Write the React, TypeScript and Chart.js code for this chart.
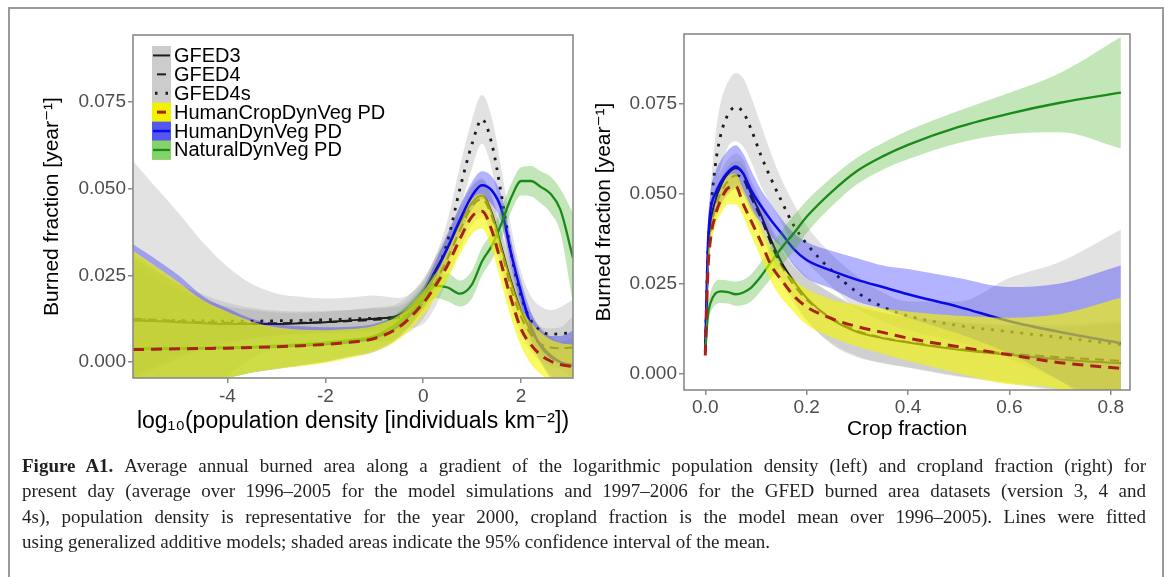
import React, { useEffect, useRef } from 'react';
import { Chart, registerables } from 'chart.js';

Chart.register(...registerables);

const FONT = "'Liberation Sans', 'DejaVu Sans', Arial, sans-serif";
const SERIF = "'Liberation Serif', 'DejaVu Serif', serif";

// ---------- shared ----------
const Y_MIN = -0.0046;
const Y_MAX = 0.0943;
const yTicks = [0, 0.025, 0.05, 0.075];
const seriesLabels = ['GFED3', 'GFED4', 'GFED4s', 'HumanCropDynVeg PD', 'HumanDynVeg PD', 'NaturalDynVeg PD'];

// ---------- left panel: log10 population density ----------
const popXMin = -5.93;
const popXMax = 3.06;
const popTicks = [-4, -2, 0, 2];
const popX = [-5.93, -5.5, -5, -4.5, -4, -3.5, -3, -2.5, -2, -1.5, -1, -0.5, 0, 0.25, 0.5, 0.75, 1, 1.2, 1.4, 1.6, 1.8, 2, 2.2, 2.4, 2.6, 2.8, 3.06];

const popGfed3 = [0.0120, 0.0118, 0.0115, 0.0112, 0.0110, 0.0110, 0.0110, 0.0112, 0.0115, 0.0120, 0.0125, 0.0135, 0.0200, 0.0265, 0.0330, 0.0400, 0.0460, 0.0480, 0.0430, 0.0330, 0.0230, 0.0148, 0.0090, 0.0050, 0.0020, 0.0000, -0.0012];
const popGfed3Lo = [-0.0040, -0.0010, 0.0020, 0.0045, 0.0060, 0.0070, 0.0077, 0.0082, 0.0085, 0.0090, 0.0093, 0.0100, 0.0160, 0.0225, 0.0285, 0.0350, 0.0410, 0.0430, 0.0380, 0.0280, 0.0180, 0.0098, 0.0040, 0.0000, -0.0035, -0.0060, -0.0092];
const popGfed3Hi = [0.0280, 0.0246, 0.0210, 0.0179, 0.0160, 0.0150, 0.0143, 0.0142, 0.0145, 0.0150, 0.0157, 0.0170, 0.0240, 0.0305, 0.0375, 0.0450, 0.0510, 0.0530, 0.0480, 0.0380, 0.0280, 0.0198, 0.0140, 0.0100, 0.0075, 0.0060, 0.0068];

const popGfed4 = [0.0125, 0.0122, 0.0118, 0.0115, 0.0113, 0.0112, 0.0112, 0.0113, 0.0115, 0.0118, 0.0122, 0.0128, 0.0170, 0.0230, 0.0300, 0.0380, 0.0450, 0.0470, 0.0420, 0.0320, 0.0210, 0.0130, 0.0080, 0.0052, 0.0042, 0.0040, 0.0042];
const popGfed4Lo = [-0.0050, -0.0020, 0.0010, 0.0035, 0.0055, 0.0068, 0.0076, 0.0080, 0.0083, 0.0086, 0.0089, 0.0095, 0.0110, 0.0160, 0.0240, 0.0325, 0.0395, 0.0415, 0.0365, 0.0265, 0.0155, 0.0080, 0.0030, 0.0002, -0.0013, -0.0020, -0.0048];
const popGfed4Hi = [0.0300, 0.0264, 0.0226, 0.0195, 0.0171, 0.0156, 0.0148, 0.0146, 0.0147, 0.0150, 0.0155, 0.0161, 0.0230, 0.0300, 0.0360, 0.0435, 0.0505, 0.0525, 0.0475, 0.0375, 0.0265, 0.0180, 0.0130, 0.0102, 0.0097, 0.0100, 0.0132];

const popGfed4s = [0.0122, 0.0121, 0.0120, 0.0119, 0.0118, 0.0118, 0.0119, 0.0120, 0.0122, 0.0124, 0.0126, 0.0128, 0.0180, 0.0250, 0.0350, 0.0500, 0.0630, 0.0700, 0.0630, 0.0480, 0.0310, 0.0190, 0.0120, 0.0090, 0.0080, 0.0082, 0.0085];
const popGfed4sLo = [-0.0330, -0.0264, -0.0188, -0.0107, -0.0039, 0.0011, 0.0040, 0.0052, 0.0061, 0.0062, 0.0060, 0.0071, 0.0125, 0.0195, 0.0290, 0.0435, 0.0560, 0.0630, 0.0555, 0.0405, 0.0235, 0.0120, 0.0050, 0.0020, 0.0010, 0.0006, -0.0010];
const popGfed4sHi = [0.0580, 0.0510, 0.0430, 0.0345, 0.0275, 0.0225, 0.0198, 0.0188, 0.0183, 0.0186, 0.0192, 0.0185, 0.0235, 0.0305, 0.0410, 0.0565, 0.0700, 0.0770, 0.0705, 0.0555, 0.0385, 0.0260, 0.0190, 0.0160, 0.0150, 0.0158, 0.0180];

const popHumCrop = [0.0036, 0.0037, 0.0038, 0.0039, 0.0040, 0.0042, 0.0044, 0.0047, 0.0051, 0.0057, 0.0068, 0.0100, 0.0170, 0.0220, 0.0280, 0.0355, 0.0420, 0.0435, 0.0380, 0.0280, 0.0180, 0.0095, 0.0050, 0.0020, 0.0003, -0.0007, -0.0013];
const popHumCropLo = [-0.0090, -0.0075, -0.0060, -0.0052, -0.0045, -0.0030, -0.0020, -0.0012, -0.0003, 0.0012, 0.0030, 0.0065, 0.0135, 0.0185, 0.0240, 0.0310, 0.0370, 0.0385, 0.0325, 0.0225, 0.0125, 0.0045, -0.0005, -0.0035, -0.0055, -0.0070, -0.0080];
const popHumCropHi = [0.0320, 0.0280, 0.0230, 0.0178, 0.0145, 0.0117, 0.0100, 0.0093, 0.0092, 0.0095, 0.0105, 0.0135, 0.0205, 0.0255, 0.0320, 0.0400, 0.0470, 0.0485, 0.0435, 0.0335, 0.0235, 0.0155, 0.0115, 0.0085, 0.0065, 0.0055, 0.0050];

const popHumDyn = [0.0037, 0.0038, 0.0039, 0.0040, 0.0041, 0.0043, 0.0045, 0.0048, 0.0052, 0.0058, 0.0070, 0.0105, 0.0185, 0.0255, 0.0330, 0.0410, 0.0480, 0.0510, 0.0495, 0.0440, 0.0310, 0.0200, 0.0105, 0.0045, 0.0015, 0.0000, -0.0010];
const popHumDynLo = [-0.0090, -0.0075, -0.0060, -0.0052, -0.0045, -0.0030, -0.0020, -0.0010, 0.0000, 0.0015, 0.0030, 0.0070, 0.0155, 0.0220, 0.0290, 0.0370, 0.0440, 0.0470, 0.0455, 0.0400, 0.0270, 0.0165, 0.0065, 0.0000, -0.0045, -0.0075, -0.0110];
const popHumDynHi = [0.0340, 0.0300, 0.0250, 0.0190, 0.0155, 0.0125, 0.0110, 0.0103, 0.0100, 0.0102, 0.0110, 0.0140, 0.0215, 0.0290, 0.0370, 0.0450, 0.0520, 0.0550, 0.0535, 0.0480, 0.0350, 0.0235, 0.0145, 0.0095, 0.0075, 0.0075, 0.0090];

const popNat = [0.0038, 0.0039, 0.0040, 0.0041, 0.0042, 0.0044, 0.0047, 0.0051, 0.0056, 0.0063, 0.0075, 0.0115, 0.0185, 0.0220, 0.0215, 0.0197, 0.0225, 0.0290, 0.0335, 0.0400, 0.0475, 0.0522, 0.0522, 0.0505, 0.0485, 0.0440, 0.0300];
const popNatLo = [-0.0090, -0.0075, -0.0060, -0.0050, -0.0045, -0.0030, -0.0018, -0.0008, 0.0003, 0.0018, 0.0035, 0.0075, 0.0150, 0.0185, 0.0175, 0.0160, 0.0185, 0.0250, 0.0295, 0.0355, 0.0435, 0.0480, 0.0478, 0.0458, 0.0430, 0.0375, 0.0170];
const popNatHi = [0.0310, 0.0270, 0.0220, 0.0170, 0.0140, 0.0110, 0.0095, 0.0090, 0.0090, 0.0095, 0.0105, 0.0145, 0.0215, 0.0255, 0.0255, 0.0235, 0.0265, 0.0330, 0.0375, 0.0445, 0.0515, 0.0562, 0.0565, 0.0550, 0.0535, 0.0500, 0.0430];

// ---------- right panel: crop fraction ----------
const cropXMin = -0.042;
const cropXMax = 0.838;
const cropTicks = [0, 0.2, 0.4, 0.6, 0.8];
const cropX = [0, 0.005, 0.01, 0.02, 0.03, 0.045, 0.06, 0.075, 0.09, 0.11, 0.13, 0.15, 0.175, 0.2, 0.25, 0.3, 0.35, 0.4, 0.5, 0.6, 0.7, 0.82];

const cropGfed3 = [0.0060, 0.0300, 0.0410, 0.0480, 0.0520, 0.0555, 0.0570, 0.0555, 0.0500, 0.0440, 0.0370, 0.0310, 0.0255, 0.0210, 0.0150, 0.0115, 0.0098, 0.0086, 0.0066, 0.0052, 0.0039, 0.0028];
const cropGfed3Lo = [0.0050, 0.0270, 0.0370, 0.0440, 0.0480, 0.0515, 0.0530, 0.0515, 0.0460, 0.0400, 0.0330, 0.0265, 0.0205, 0.0150, 0.0080, 0.0045, 0.0028, 0.0016, -0.0009, -0.0028, -0.0051, -0.0082];
const cropGfed3Hi = [0.0070, 0.0330, 0.0450, 0.0520, 0.0560, 0.0595, 0.0610, 0.0595, 0.0540, 0.0480, 0.0410, 0.0355, 0.0305, 0.0270, 0.0220, 0.0185, 0.0168, 0.0156, 0.0141, 0.0132, 0.0129, 0.0138];

const cropGfed4 = [0.0060, 0.0290, 0.0390, 0.0460, 0.0500, 0.0535, 0.0550, 0.0540, 0.0490, 0.0430, 0.0360, 0.0300, 0.0245, 0.0205, 0.0153, 0.0118, 0.0099, 0.0087, 0.0068, 0.0055, 0.0045, 0.0035];
const cropGfed4Lo = [0.0050, 0.0260, 0.0350, 0.0420, 0.0460, 0.0495, 0.0510, 0.0500, 0.0450, 0.0390, 0.0320, 0.0255, 0.0195, 0.0145, 0.0083, 0.0048, 0.0029, 0.0017, -0.0007, -0.0025, -0.0045, -0.0075];
const cropGfed4Hi = [0.0070, 0.0320, 0.0430, 0.0500, 0.0540, 0.0575, 0.0590, 0.0580, 0.0530, 0.0470, 0.0400, 0.0345, 0.0295, 0.0265, 0.0223, 0.0188, 0.0169, 0.0157, 0.0143, 0.0135, 0.0135, 0.0145];

const cropGfed4s = [0.0060, 0.0330, 0.0440, 0.0580, 0.0660, 0.0720, 0.0740, 0.0725, 0.0680, 0.0605, 0.0540, 0.0480, 0.0410, 0.0360, 0.0285, 0.0225, 0.0185, 0.0160, 0.0133, 0.0116, 0.0100, 0.0080];
const cropGfed4sLo = [0.0040, 0.0280, 0.0380, 0.0500, 0.0570, 0.0630, 0.0645, 0.0630, 0.0590, 0.0520, 0.0470, 0.0420, 0.0350, 0.0310, 0.0240, 0.0180, 0.0145, 0.0120, 0.0088, 0.0040, -0.0020, -0.0100];
const cropGfed4sHi = [0.0080, 0.0380, 0.0500, 0.0660, 0.0750, 0.0810, 0.0835, 0.0820, 0.0770, 0.0690, 0.0610, 0.0540, 0.0470, 0.0410, 0.0330, 0.0270, 0.0225, 0.0200, 0.0200, 0.0265, 0.0310, 0.0400];

const cropHumCrop = [0.0050, 0.0280, 0.0370, 0.0440, 0.0480, 0.0515, 0.0520, 0.0470, 0.0425, 0.0365, 0.0300, 0.0260, 0.0215, 0.0185, 0.0152, 0.0130, 0.0114, 0.0098, 0.0074, 0.0052, 0.0030, 0.0014];
const cropHumCropLo = [0.0040, 0.0250, 0.0340, 0.0410, 0.0440, 0.0470, 0.0470, 0.0435, 0.0385, 0.0320, 0.0255, 0.0210, 0.0170, 0.0135, 0.0100, 0.0075, 0.0055, 0.0035, 0.0000, -0.0030, -0.0045, -0.0180];
const cropHumCropHi = [0.0060, 0.0310, 0.0400, 0.0470, 0.0510, 0.0550, 0.0555, 0.0510, 0.0465, 0.0410, 0.0345, 0.0300, 0.0260, 0.0235, 0.0205, 0.0190, 0.0180, 0.0172, 0.0160, 0.0155, 0.0165, 0.0210];

const cropHumDyn = [0.0070, 0.0350, 0.0450, 0.0500, 0.0530, 0.0560, 0.0575, 0.0555, 0.0510, 0.0465, 0.0425, 0.0390, 0.0345, 0.0315, 0.0285, 0.0260, 0.0240, 0.0220, 0.0185, 0.0145, 0.0115, 0.0084];
const cropHumDynLo = [0.0050, 0.0300, 0.0400, 0.0440, 0.0470, 0.0500, 0.0515, 0.0500, 0.0455, 0.0420, 0.0380, 0.0350, 0.0300, 0.0265, 0.0235, 0.0200, 0.0180, 0.0155, 0.0110, 0.0055, -0.0020, -0.0130];
const cropHumDynHi = [0.0090, 0.0400, 0.0500, 0.0560, 0.0590, 0.0620, 0.0634, 0.0610, 0.0565, 0.0510, 0.0470, 0.0430, 0.0390, 0.0365, 0.0340, 0.0320, 0.0300, 0.0290, 0.0265, 0.0240, 0.0250, 0.0300];

const cropNat = [0.0060, 0.0160, 0.0195, 0.0222, 0.0228, 0.0226, 0.0220, 0.0225, 0.0238, 0.0270, 0.0310, 0.0348, 0.0390, 0.0435, 0.0505, 0.0563, 0.0603, 0.0635, 0.0685, 0.0722, 0.0752, 0.0780];
const cropNatLo = [0.0040, 0.0130, 0.0165, 0.0190, 0.0196, 0.0194, 0.0188, 0.0190, 0.0200, 0.0230, 0.0265, 0.0300, 0.0340, 0.0390, 0.0465, 0.0526, 0.0566, 0.0595, 0.0640, 0.0665, 0.0670, 0.0625];
const cropNatHi = [0.0080, 0.0190, 0.0225, 0.0255, 0.0260, 0.0258, 0.0255, 0.0260, 0.0275, 0.0310, 0.0355, 0.0395, 0.0440, 0.0480, 0.0545, 0.0600, 0.0640, 0.0675, 0.0730, 0.0780, 0.0835, 0.0935];

// ---------- caption ----------
const captionLines = [
  'Average annual burned area along a gradient of the logarithmic population density (left) and cropland fraction (right) for',
  'present day (average over 1996–2005 for the model simulations and 1997–2006 for the GFED burned area datasets (version 3, 4 and',
  '4s), population density is representative for the year 2000, cropland fraction is the model mean over 1996–2005). Lines were fitted',
  'using generalized additive models; shaded areas indicate the 95% confidence interval of the mean.',
];

// ---------- styles ----------
type Style = { color: string; width: number; dash: number[]; band: string; key: string };
const STYLES: Style[] = [
  { color: '#1c1c1c', width: 2, dash: [], band: 'rgba(150,150,150,0.26)', key: '#cccccc' },
  { color: '#1c1c1c', width: 2, dash: [9, 6], band: 'rgba(150,150,150,0.26)', key: '#cccccc' },
  { color: '#1c1c1c', width: 2.8, dash: [2.8, 7], band: 'rgba(150,150,150,0.28)', key: '#cccccc' },
  { color: '#a8221a', width: 3, dash: [11, 7], band: 'rgba(245,245,0,0.62)', key: '#f2f200' },
  { color: '#0a0ae6', width: 2.5, dash: [], band: 'rgba(20,20,255,0.32)', key: '#5555f0' },
  { color: '#1b8a1b', width: 2.3, dash: [], band: 'rgba(70,180,40,0.33)', key: '#84d36a' },
];

type Series = { mean: number[]; lo: number[]; hi: number[] };

const pts = (xs: number[], ys: number[]) => xs.map((x, i) => ({ x, y: ys[i] }));

function buildDatasets(xs: number[], series: Series[]) {
  const ds: any[] = [];
  const band = (i: number) => {
    const s = series[i];
    ds.push({ data: pts(xs, s.lo), borderWidth: 0, pointRadius: 0, fill: false });
    ds.push({ data: pts(xs, s.hi), borderWidth: 0, pointRadius: 0, fill: '-1', backgroundColor: STYLES[i].band });
  };
  const line = (i: number) => {
    const st = STYLES[i];
    ds.push({
      label: seriesLabels[i],
      data: pts(xs, series[i].mean),
      borderColor: st.color,
      borderWidth: st.width,
      borderDash: st.dash,
      borderCapStyle: 'butt',
      pointRadius: 0,
      fill: false,
    });
  };
  // GFED: ribbons then lines; models: ribbon + line each (drawing order)
  [0, 1, 2].forEach(band);
  [0, 1, 2].forEach(line);
  [4, 5, 3].forEach((i) => { band(i); line(i); });
  ds.forEach((d, i) => { d.order = ds.length - i; });
  return ds;
}

const panelBorder = {
  id: 'panelBorder',
  afterDatasetsDraw(chart: any) {
    const { ctx, chartArea: a } = chart;
    ctx.save();
    ctx.strokeStyle = '#8a8a8a';
    ctx.lineWidth = 1.6;
    ctx.strokeRect(a.left, a.top, a.right - a.left, a.bottom - a.top);
    ctx.restore();
  },
};

const ggLegend = {
  id: 'ggLegend',
  afterDraw(chart: any) {
    const ctx = chart.ctx;
    const kx = 132, ky = 31, kw = 19, kh = 18.9;
    ctx.save();
    seriesLabels.forEach((lab, i) => {
      const st = STYLES[i];
      const y0 = ky + i * kh;
      const ym = y0 + kh / 2;
      ctx.fillStyle = st.key;
      ctx.fillRect(kx, y0, kw, kh + 0.5);
      ctx.strokeStyle = st.color;
      ctx.lineWidth = Math.max(2, st.width);
      ctx.setLineDash([]);
      ctx.beginPath();
      if (i === 0 || i === 4 || i === 5) {
        ctx.moveTo(kx + 1, ym); ctx.lineTo(kx + kw - 1, ym);
      } else if (i === 1 || i === 3) {
        ctx.moveTo(kx + 5, ym); ctx.lineTo(kx + 14, ym);
      } else {
        ctx.moveTo(kx + 3, ym); ctx.lineTo(kx + 5.5, ym);
        ctx.moveTo(kx + 13.5, ym); ctx.lineTo(kx + 16, ym);
      }
      ctx.stroke();
      ctx.fillStyle = '#000';
      ctx.font = `20px ${FONT}`;
      ctx.textBaseline = 'middle';
      ctx.textAlign = 'left';
      ctx.fillText(lab, kx + kw + 3, ym + 1);
    });
    ctx.restore();
  },
};

type PanelCfg = {
  xs: number[]; series: Series[]; xMin: number; xMax: number; xTicks: number[];
  xFmt: (v: number) => string; xTitle: string; xTitleSize: number; yAxisWidth: number; xAxisHeight: number;
  padTop: number; padRight: number; yTitlePad: number; xTitlePad: number; xTickPad: number; legend: boolean;
};

function makeConfig(p: PanelCfg): any {
  return {
    type: 'line',
    data: { datasets: buildDatasets(p.xs, p.series) },
    plugins: p.legend ? [panelBorder, ggLegend] : [panelBorder],
    options: {
      animation: false,
      responsive: false,
      maintainAspectRatio: false,
      events: [],
      layout: { padding: { top: p.padTop, right: p.padRight, left: 0, bottom: 0 } },
      elements: { line: { cubicInterpolationMode: 'monotone' }, point: { radius: 0 } },
      plugins: { legend: { display: false }, tooltip: { enabled: false }, filler: { propagate: false } },
      scales: {
        x: {
          type: 'linear', min: p.xMin, max: p.xMax,
          afterBuildTicks: (s: any) => { s.ticks = p.xTicks.map((v) => ({ value: v })); },
          afterFit: (s: any) => { s.height = p.xAxisHeight; },
          ticks: { callback: (v: any) => p.xFmt(Number(v)), color: '#4d4d4d', font: { family: FONT, size: 19 }, padding: p.xTickPad, maxRotation: 0, autoSkip: false },
          grid: { drawOnChartArea: false, drawTicks: true, tickLength: 5, color: '#8a8a8a', lineWidth: 1.5 },
          border: { display: false },
          title: { display: true, text: p.xTitle, color: '#000', font: { family: FONT, size: p.xTitleSize }, padding: { top: 0, bottom: p.xTitlePad } },
        },
        y: {
          type: 'linear', min: Y_MIN, max: Y_MAX,
          afterBuildTicks: (s: any) => { s.ticks = yTicks.map((v) => ({ value: v })); },
          afterFit: (s: any) => { s.width = p.yAxisWidth; },
          ticks: { callback: (v: any) => Number(v).toFixed(3), color: '#4d4d4d', font: { family: FONT, size: 19 }, padding: 2 },
          grid: { drawOnChartArea: false, drawTicks: true, tickLength: 5, color: '#8a8a8a', lineWidth: 1.5 },
          border: { display: false },
          title: { display: true, text: 'Burned fraction [year⁻¹]', color: '#000', font: { family: FONT, size: 21 }, padding: { top: p.yTitlePad, bottom: 0 } },
        },
      },
    },
  };
}

function Panel({ cfg, left, top, width, height }: { cfg: PanelCfg; left: number; top: number; width: number; height: number }) {
  const ref = useRef<HTMLCanvasElement>(null);
  useEffect(() => {
    const chart = new Chart(ref.current as HTMLCanvasElement, makeConfig(cfg));
    return () => chart.destroy();
  }, []);
  return (
    <canvas ref={ref} width={width} height={height}
      style={{ position: 'absolute', left, top, width, height }} />
  );
}

const leftCfg: PanelCfg = {
  xs: popX,
  series: [
    { mean: popGfed3, lo: popGfed3Lo, hi: popGfed3Hi },
    { mean: popGfed4, lo: popGfed4Lo, hi: popGfed4Hi },
    { mean: popGfed4s, lo: popGfed4sLo, hi: popGfed4sHi },
    { mean: popHumCrop, lo: popHumCropLo, hi: popHumCropHi },
    { mean: popHumDyn, lo: popHumDynLo, hi: popHumDynHi },
    { mean: popNat, lo: popNatLo, hi: popNatHi },
  ],
  xMin: popXMin, xMax: popXMax, xTicks: popTicks,
  xFmt: (v) => String(v),
  xTitle: 'log₁₀(population density [individuals km⁻²])',
  xTitleSize: 23,
  yAxisWidth: 113, xAxisHeight: 67, padTop: 20, padRight: 17,
  yTitlePad: 20, xTitlePad: 10, xTickPad: 2, legend: true,
};

const rightCfg: PanelCfg = {
  xs: cropX,
  series: [
    { mean: cropGfed3, lo: cropGfed3Lo, hi: cropGfed3Hi },
    { mean: cropGfed4, lo: cropGfed4Lo, hi: cropGfed4Hi },
    { mean: cropGfed4s, lo: cropGfed4sLo, hi: cropGfed4sHi },
    { mean: cropHumCrop, lo: cropHumCropLo, hi: cropHumCropHi },
    { mean: cropHumDyn, lo: cropHumDynLo, hi: cropHumDynHi },
    { mean: cropNat, lo: cropNatLo, hi: cropNatHi },
  ],
  xMin: cropXMin, xMax: cropXMax, xTicks: cropTicks,
  xFmt: (v) => v.toFixed(1),
  xTitle: 'Crop fraction',
  xTitleSize: 21,
  yAxisWidth: 109, xAxisHeight: 65, padTop: 19, padRight: 25,
  yTitlePad: 17, xTitlePad: 13, xTickPad: 1, legend: false,
};

export default function App() {
  return (
    <div style={{ position: 'fixed', left: 0, top: 0, width: 1167, height: 577, background: '#fff', overflow: 'hidden' }}>
      <div style={{ position: 'absolute', left: 8, top: 7, width: 1152, height: 620, borderLeft: '2px solid #9a9a9a', borderTop: '2px solid #9a9a9a', borderRight: '2px solid #9a9a9a' }} />
      <Panel cfg={leftCfg} left={20} top={15} width={570} height={430} />
      <Panel cfg={rightCfg} left={575} top={15} width={580} height={440} />
      <div style={{ position: 'absolute', left: 22, top: 453, width: 1124, fontFamily: SERIF, fontSize: 19, lineHeight: '25.3px', color: '#231f20' }}>
        {captionLines.map((ln, i) => (
          <div key={i} style={{ whiteSpace: 'nowrap', textAlign: i < 3 ? 'justify' : 'left', textAlignLast: i < 3 ? 'justify' : 'left' } as any}>
            {i === 0 ? <b>Figure A1. </b> : null}{ln}
          </div>
        ))}
      </div>
    </div>
  );
}
